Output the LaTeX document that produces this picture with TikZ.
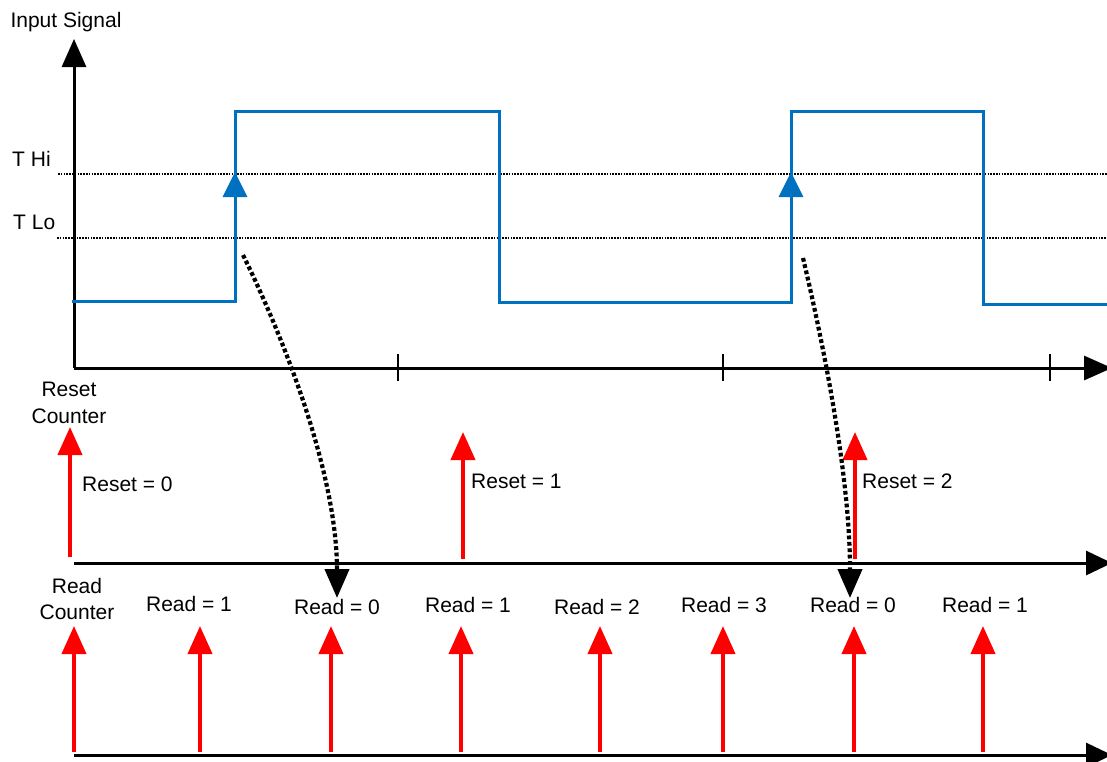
\documentclass[tikz,border=0pt]{standalone}
\usepackage{fontspec}
\setmainfont{Liberation Sans}
\usetikzlibrary{arrows.meta}
\definecolor{sigblue}{RGB}{0,112,192}
\definecolor{pulsered}{RGB}{255,0,0}
\begin{document}
\begin{tikzpicture}[x=1pt,y=-1pt,
  lbl/.style={inner sep=0pt,font=\fontsize{21}{25}\selectfont},
  axisline/.style={draw=black,line width=3pt,-{Triangle[length=28pt,width=24pt]}},
  tickline/.style={draw=black,line width=1.5pt},
  thresh/.style={draw=black,line width=1.6pt,dash pattern=on 1.6pt off 1.2pt},
  sigline/.style={draw=sigblue,line width=3pt,line join=miter},
  bluearrow/.style={draw=sigblue,line width=3pt,-{Triangle[length=25pt,width=24pt]}},
  redpulse/.style={draw=pulsered,line width=4pt,-{Triangle[length=28pt,width=24pt]}},
  linkarrow/.style={draw=black,line width=4.2pt,dash pattern=on 3.8pt off 2.6pt,-{Triangle[length=29pt,width=24pt]}}]
\useasboundingbox (0,0) rectangle (1107,761);
\begin{scope}
\clip (0,0) rectangle (1107,761);
% ---------- coordinates ----------
\coordinate (o) at (74,368);
\coordinate (ytop) at (74,39);
\coordinate (xend) at (1112,368);
\coordinate (rs0) at (74,563);
\coordinate (rsend) at (1112,563);
\coordinate (rd0) at (74,755);
\coordinate (rdend) at (1112,755);
% thresholds
\coordinate (hi0) at (58,174);
\coordinate (hi1) at (1107,174);
\coordinate (lo0) at (57,238);
\coordinate (lo1) at (1107,238);
\draw[thresh] (hi0) -- (hi1);
\draw[thresh] (lo0) -- (lo1);
% ---------- axes ----------
\draw[axisline] (o) -- (ytop);
\draw[axisline] (o) -- (xend);
\draw[axisline,-{Triangle[length=26pt,width=24pt]}] (rs0) -- (rsend);
\draw[axisline,-{Triangle[length=26pt,width=24pt]}] (rd0) -- (rdend);
% ticks
\foreach \tx/\tn in {398/t1,723/t2,1050/t3}{
  \coordinate (\tn a) at (\tx,354);
  \coordinate (\tn b) at (\tx,381);
  \draw[tickline] (\tn a) -- (\tn b);
}
% ---------- signal ----------
\coordinate (s0) at (72,301);
\coordinate (s1) at (235,301);
\coordinate (s2) at (235,111);
\coordinate (s3) at (499,111);
\coordinate (s4) at (499,302);
\coordinate (s5) at (791,302);
\coordinate (s6) at (791,111);
\coordinate (s7) at (983,111);
\coordinate (s8) at (983,304);
\coordinate (s9) at (1110,304);
\draw[sigline] (s0) -- (s1) -- (s2) -- (s3) -- (s4) -- (s5) -- (s6) -- (s7) -- (s8) -- (s9);
\coordinate (b1) at (235,240);
\coordinate (b1t) at (235,172);
\coordinate (b2) at (791,240);
\coordinate (b2t) at (791,172);
\draw[bluearrow] (b1) -- (b1t);
\draw[bluearrow] (b2) -- (b2t);
% ---------- reset pulses ----------
\foreach \px/\pb/\pt/\pn in {70/557/427/r0,463/559/432/r1,855/559/432/r2}{
  \coordinate (\pn a) at (\px,\pb);
  \coordinate (\pn b) at (\px,\pt);
  \draw[redpulse] (\pn a) -- (\pn b);
}
% ---------- read pulses ----------
\foreach \px/\pn in {74/q0,200/q1,331/q2,461/q3,600/q4,723/q5,854/q6,983/q7}{
  \coordinate (\pn a) at (\px,752);
  \coordinate (\pn b) at (\px,626);
  \draw[redpulse] (\pn a) -- (\pn b);
}
% ---------- link arrows ----------
\coordinate (l1s) at (243,255);
\coordinate (l1e) at (337,598);
\coordinate (l2s) at (803,258);
\coordinate (l2e) at (850,598);
\draw[linkarrow] (l1s) .. controls (280,330) and (337,470) .. (l1e);
\draw[linkarrow] (l2s) .. controls (820,330) and (850,470) .. (l2e);
\end{scope}
% ---------- labels ----------
\node[lbl,anchor=base] (insig) at (66,27) {Input Signal};
\node[lbl,anchor=base west] (thi) at (12,166) {T Hi};
\node[lbl,anchor=base west] (tlo) at (13,229) {T Lo};
\node[lbl,anchor=base] (resetA) at (69,396) {Reset};
\node[lbl,anchor=base] (resetB) at (69,423) {Counter};
\node[lbl,anchor=base] (readA) at (77,593) {Read};
\node[lbl,anchor=base] (readB) at (77,619) {Counter};
\node[lbl,anchor=base west] (rv0) at (82,491) {Reset = 0};
\node[lbl,anchor=base west] (rv1) at (471,488) {Reset = 1};
\node[lbl,anchor=base west] (rv2) at (862,488) {Reset = 2};
\node[lbl,anchor=base] (qv1) at (189,611) {Read = 1};
\node[lbl,anchor=base] (qv2) at (337,614) {Read = 0};
\node[lbl,anchor=base] (qv3) at (468,612) {Read = 1};
\node[lbl,anchor=base] (qv4) at (597,614) {Read = 2};
\node[lbl,anchor=base] (qv5) at (724,612) {Read = 3};
\node[lbl,anchor=base] (qv6) at (853,612) {Read = 0};
\node[lbl,anchor=base] (qv7) at (985,612) {Read = 1};
\end{tikzpicture}
\end{document}
